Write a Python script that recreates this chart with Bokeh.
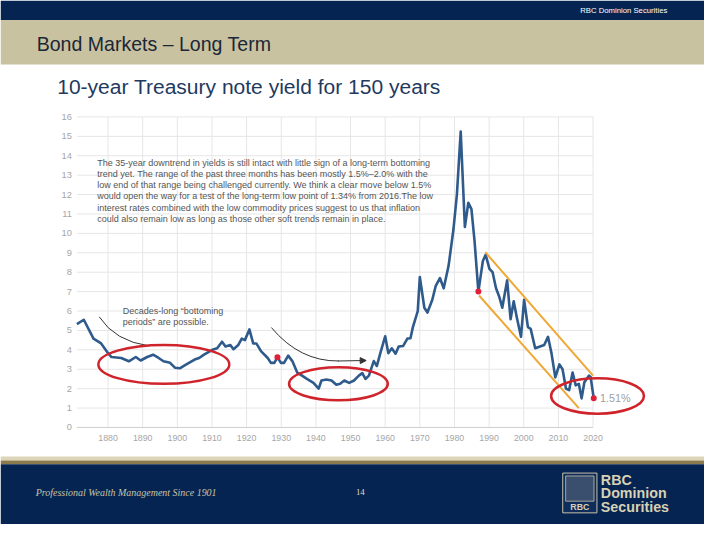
from bokeh.plotting import figure
from bokeh.models import Range1d, Arrow, NormalHead
from bokeh.core.properties import value
from bokeh.embed import file_html
from bokeh.resources import INLINE

# ---------------- data ----------------
years = [1871, 1873, 1875.8, 1878, 1880, 1881, 1883.8, 1886, 1888, 1889.4,
         1891.3, 1893, 1894.6, 1896, 1897.9, 1899.3, 1900.7, 1902.6, 1905, 1906.3,
         1907.7, 1910.1, 1911.5, 1912.9, 1913.9, 1915.3, 1916.2, 1917.6, 1918.6, 1919.5,
         1920.8, 1921.9, 1922.8, 1924.2, 1926.1, 1927, 1928, 1928.9, 1929.9, 1930.8,
         1932, 1933.2, 1934.6, 1936, 1937.4, 1939.3, 1940.8, 1941.6, 1943, 1944.5,
         1945.9, 1947, 1948.2, 1949.6, 1951, 1952.4, 1953.4, 1954.3, 1955.3, 1956.7,
         1957.6, 1958.6, 1960, 1960.9, 1961.9, 1963, 1963.9, 1965.2, 1966.4, 1967.3,
         1968, 1969.4, 1970, 1971.3, 1972.2, 1973.6, 1974.6, 1975.8, 1976.9, 1978.3,
         1979.7, 1980.7, 1981.8, 1983, 1984, 1984.9, 1985.8, 1986.9, 1988.2, 1989,
         1990.1, 1991, 1992, 1992.9, 1993.8, 1995.2, 1996.2, 1997.1, 1998, 1999.2,
         2000.1, 2001.2, 2002, 2003.3, 2004.7, 2005.9, 2007, 2008, 2009.1, 2010.3,
         2011.2, 2012.2, 2013.1, 2014.1, 2015, 2015.9, 2016.7, 2017.5, 2018.8, 2019.3,
         2020.2]
yields = [5.33, 5.55, 4.58, 4.33, 3.83, 3.63, 3.58, 3.41, 3.63, 3.45,
          3.63, 3.75, 3.58, 3.41, 3.33, 3.08, 3.05, 3.25, 3.50, 3.58,
          3.75, 4.00, 4.08, 4.42, 4.17, 4.25, 4.03, 4.25, 4.58, 4.50,
          5.05, 4.33, 4.33, 3.92, 3.58, 3.33, 3.33, 3.62, 3.33, 3.33,
          3.70, 3.42, 2.83, 2.67, 2.50, 2.30, 2.00, 2.42, 2.47, 2.42,
          2.20, 2.25, 2.42, 2.30, 2.42, 2.67, 2.80, 2.50, 2.67, 3.42,
          3.17, 3.83, 4.70, 3.83, 4.08, 3.80, 4.17, 4.20, 4.58, 4.60,
          5.17, 6.00, 7.75, 6.17, 5.92, 6.58, 7.30, 7.70, 7.17, 8.33,
          10.20, 12.00, 15.25, 10.33, 11.58, 11.25, 9.60, 7.00, 8.58, 8.90,
          8.17, 8.00, 7.17, 6.75, 6.17, 7.58, 5.58, 6.50, 5.67, 4.67,
          6.58, 5.17, 5.08, 4.08, 4.17, 4.25, 4.67, 3.83, 2.58, 3.25,
          3.00, 2.00, 1.92, 2.83, 2.17, 2.25, 1.50, 2.33, 2.67, 2.60,
          1.51]

y_ticks = list(range(0, 17))
y_tick_labels = [str(v) for v in y_ticks]
x_ticks = list(range(1880, 2021, 10))
x_tick_labels = [str(v) for v in x_ticks]

marked_years = [1928.9, 1986.9, 2020.2]
marked_yields = [3.62, 7.00, 1.51]
last_label = "1.51%"

ellipse_years = [1896.1, 1946.5, 2021.3]
ellipse_yields = [3.25, 2.25, 1.62]
ellipse_span_years = [37.8, 28.5, 26.8]
ellipse_span_yields = [2.0, 1.7, 1.82]

channel_upper_years = [1988.9, 2020.0]
channel_upper_yields = [9.03, 2.67]
channel_lower_years = [1987.1, 2015.9]
channel_lower_yields = [6.80, 1.00]

page_title = "Bond Markets \u2013 Long Term"
chart_title = "10-year Treasury note yield for 150 years"
header_brand = "RBC Dominion Securities"
note_lines = [
    "The 35-year downtrend in yields is still intact with little sign of a long-term bottoming",
    "trend yet. The range of the past three months has been mostly 1.5%\u20132.0% with the",
    "low end of that range being challenged currently. We think a clear move below 1.5%",
    "would open the way for a test of the long-term low point of 1.34% from 2016.The low",
    "interest rates combined with the low commodity prices suggest to us that inflation",
    "could also remain low as long as those other soft trends remain in place.",
]
bottom_note = ["Decades-long \u201cbottoming", "periods\u201d are possible."]
footer_tag = "Professional Wealth Management Since 1901"
page_number = "14"
logo_words = ["RBC", "Dominion", "Securities"]

# ---------------- layout calibration (slide pixels, 720 x 540 slide) ----------------
PX_1880 = 110.0
PX_PER_YEAR = (606.0 - 110.0) / 140.0
PY_ZERO = 440.0
PY_PER_UNIT = 20.0

W, H = 704, 524
S = W / 720.0  # slide is drawn scaled to fit the window


def fs(px):
    return value(f"{px * S:.2f}px")


p = figure(width=W, height=H, output_backend="svg", toolbar_location=None,
           x_range=Range1d(0, 720), y_range=Range1d(540, 0),
           x_axis_location=None, y_axis_location=None, min_border=0,
           outline_line_color=None, background_fill_color="white",
           border_fill_color="white")
p.xgrid.visible = False
p.ygrid.visible = False
p.extra_x_ranges = {"yr": Range1d(1880 - PX_1880 / PX_PER_YEAR,
                                  1880 + (720 - PX_1880) / PX_PER_YEAR)}
p.extra_y_ranges = {"val": Range1d((PY_ZERO - 540) / PY_PER_UNIT,
                                   PY_ZERO / PY_PER_UNIT)}

SANS = value("Liberation Sans")

# header
p.quad(left=0, right=720, top=0, bottom=20, fill_color="#062451", line_color=None)
p.quad(left=0, right=720, top=20, bottom=66, fill_color="#C9C2A1", line_color=None)
p.text(x=[682], y=[10.5], text=[header_brand], text_font=SANS,
       text_font_size=fs(7.9), text_color="white",
       text_align="right", text_baseline="middle")
p.text(x=[37], y=[45], text=[page_title], text_font=SANS,
       text_font_size=fs(20), text_color="#1B2736",
       text_align="left", text_baseline="middle")

# chart title
p.text(x=[58], y=[89], text=[chart_title], text_font=SANS,
       text_font_size=fs(21.5), text_color="#1F3A60",
       text_align="left", text_baseline="middle")

# grid
n_y = len(y_ticks)
p.segment(x0=[years[0]] * n_y, x1=[x_ticks[-1]] * n_y, y0=y_ticks, y1=y_ticks,
          x_range_name="yr", y_range_name="val", line_color="#E6E6E6", line_width=1)
n_x = len(x_ticks)
p.segment(x0=x_ticks, x1=x_ticks, y0=[y_ticks[0]] * n_x, y1=[y_ticks[-1]] * n_x,
          x_range_name="yr", y_range_name="val", line_color="#E6E6E6", line_width=1)
p.segment(x0=[years[0]], x1=[x_ticks[-1]], y0=[0], y1=[0],
          x_range_name="yr", y_range_name="val", line_color="#D0D0D0", line_width=1)

# tick labels
p.text(x=[73] * n_y, y=y_ticks, text=y_tick_labels, y_range_name="val",
       text_font=SANS, text_font_size=fs(9.5), text_color="#A6A6A6",
       text_align="right", text_baseline="middle")
p.text(x=x_ticks, y=[-0.55] * n_x, text=x_tick_labels, x_range_name="yr",
       y_range_name="val", text_font=SANS, text_font_size=fs(9),
       text_color="#A6A6A6", text_align="center", text_baseline="middle")

# curved pointers
p.quadratic(x0=[101], y0=[326], cx=[117], cy=[351], x1=[152], y1=[356],
            line_color="#333333", line_width=1)
p.quadratic(x0=[277], y0=[337], cx=[306], cy=[372], x1=[346], y1=[371.5],
            line_color="#333333", line_width=1)
p.add_layout(Arrow(end=NormalHead(size=6, fill_color="#333333", line_color="#333333"),
                   x_start=345, y_start=371.5, x_end=374, y_end=371,
                   line_color="#333333", line_width=1))

# data line
p.line(years, yields, x_range_name="yr", y_range_name="val",
       line_color="#2F5A8C", line_width=2.6, line_join="round")

# channel
p.line(channel_upper_years, channel_upper_yields, x_range_name="yr", y_range_name="val",
       line_color="#EFA735", line_width=2)
p.line(channel_lower_years, channel_lower_yields, x_range_name="yr", y_range_name="val",
       line_color="#EFA735", line_width=2)

# ellipses
p.ellipse(x=ellipse_years, y=ellipse_yields, width=ellipse_span_years,
          height=ellipse_span_yields, x_range_name="yr", y_range_name="val",
          fill_color=None, line_color="#D0242C", line_width=2.5)

# marked points
p.scatter(marked_years, marked_yields, x_range_name="yr", y_range_name="val",
          size=6, fill_color="#E0203A", line_color=None)
p.text(x=[marked_years[-1] + 1.8], y=[marked_yields[-1]], text=[last_label],
       x_range_name="yr", y_range_name="val", text_font=SANS,
       text_font_size=fs(11), text_color="#A0A0A0",
       text_align="left", text_baseline="middle")

# annotation texts
p.text(x=[99] * len(note_lines), y=[167 + 11.6 * i for i in range(len(note_lines))],
       text=note_lines, text_font=SANS, text_font_size=fs(9.2),
       text_color="#555555", text_align="left", text_baseline="middle")
p.text(x=[125] * len(bottom_note), y=[320 + 11.5 * i for i in range(len(bottom_note))],
       text=bottom_note, text_font=SANS, text_font_size=fs(9.2),
       text_color="#555555", text_align="left", text_baseline="middle")

# footer
p.quad(left=0, right=720, top=470, bottom=474, fill_color="#DCD5B8", line_color=None)
p.quad(left=0, right=720, top=474, bottom=478, fill_color="#8A7A4C", line_color=None)
p.quad(left=0, right=720, top=478, bottom=540, fill_color="#062451", line_color=None)
p.text(x=[36], y=[507], text=[footer_tag], text_font=value("Liberation Serif"),
       text_font_style="italic", text_font_size=fs(10.2), text_color="#C9C2A6",
       text_align="left", text_baseline="middle")
p.text(x=[368], y=[507], text=[page_number], text_font=value("Liberation Serif"),
       text_font_size=fs(9), text_color="#E0DCC8",
       text_align="center", text_baseline="middle")
# logo shield
p.quad(left=575, right=610, top=487, bottom=528, fill_color="#0E2D5C",
       line_color="#C9C2A6", line_width=1)
p.quad(left=578, right=607, top=490, bottom=516, fill_color="#3A4F6E",
       line_color="#C9C2A6", line_width=0.8)
p.text(x=[592.5], y=[522], text=["RBC"], text_font=SANS, text_font_style="bold",
       text_font_size=fs(9), text_color="#D8D1B4",
       text_align="center", text_baseline="middle")
p.text(x=[614] * 3, y=[494, 508, 521.5], text=logo_words, text_font=SANS,
       text_font_style="bold", text_font_size=fs(14.6), text_color="#D8D1B4",
       text_align="left", text_baseline="middle")

open("out.html", "w").write(file_html(p, INLINE))
